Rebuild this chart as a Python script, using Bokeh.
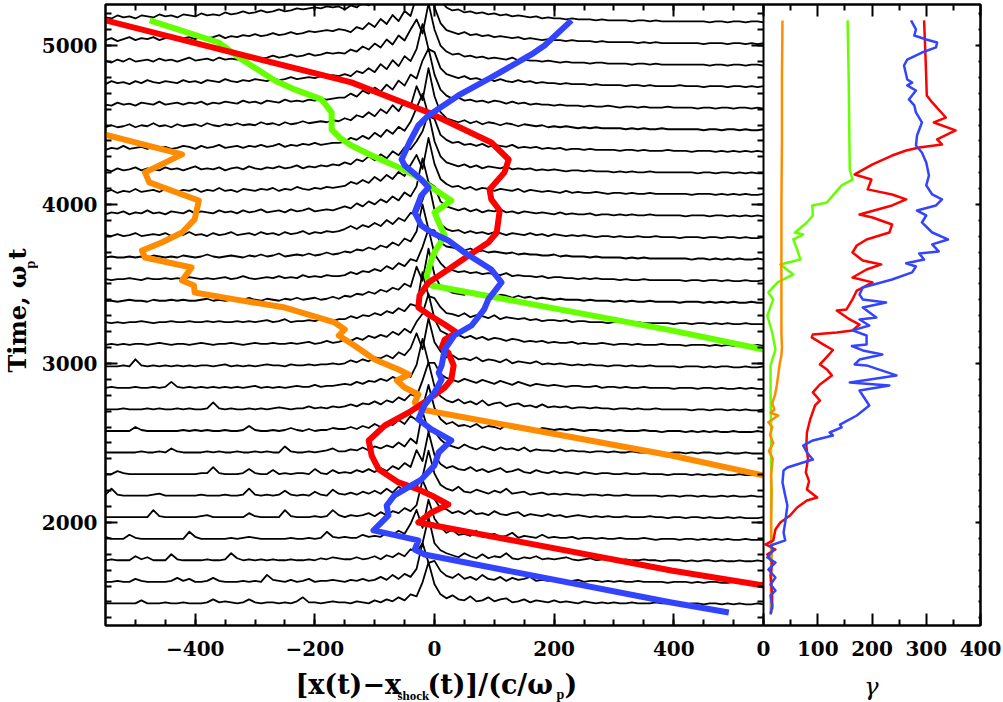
import numpy as np
from bokeh.plotting import figure
from bokeh.models import (Range1d, LinearAxis, SingleIntervalTicker, FixedTicker,
                          CustomLabelingPolicy)
from bokeh.core.properties import value
from bokeh.layouts import row, column
from bokeh.embed import file_html
from bokeh.resources import INLINE

# ---------------- data ----------------
SNAP_T = [1485, 1620, 1756, 1891, 2027, 2162, 2298, 2434, 2569, 2705, 2840, 2976, 3111, 3247,
          3382, 3518, 3654, 3789, 3925, 4060, 4196, 4331, 4467, 4603, 4738, 4874, 5009, 5145]
PROFILE_UNIT = 6.3   # time units per profile unit

# profile heights: downstream (-550..-160), shock ramp (-150..-10), upstream (0..550)
PROF_DOWN = [
 [1,1,1,1,1,1,4,1,1,1,2,1,1,2,1,1,1,2,5,2,3,2,1,2,5,2,1,2,2,1,2,1,3,7,2,2,1,2,3,2],
 [1,1,2,1,1,4,2,1,1,1,1,2,5,2,4,1,1,2,5,2,1,1,1,2,1,2,1,8,3,2,1,3,1,2,4,1,2,2,3,2],
 [1,2,1,1,1,5,2,4,1,1,1,7,2,1,1,1,1,2,1,1,2,8,3,1,2,1,2,1,2,1,1,2,1,1,2,1,3,2,4,3],
 [3,1,1,1,5,2,1,1,1,1,1,1,1,1,8,3,1,1,1,1,1,2,1,2,3,2,1,1,1,1,1,2,1,1,2,1,2,8,3,2],
 [1,1,1,1,1,1,1,1,8,2,1,1,1,1,1,1,2,3,1,1,1,1,1,1,5,2,1,1,1,1,8,2,1,1,1,2,1,2,8,3],
 [2,8,2,1,1,1,1,1,2,3,1,1,1,1,1,1,2,1,1,1,2,1,1,2,8,2,1,2,1,2,6,2,1,2,1,5,2,1,7,3],
 [1,1,4,2,1,1,1,1,1,1,1,1,1,1,1,1,2,2,8,2,1,1,1,2,6,2,1,1,5,1,2,1,2,2,1,6,2,1,5,2],
 [1,1,1,1,1,1,2,1,1,2,1,5,2,1,1,1,1,2,1,2,1,1,2,1,1,2,1,2,1,1,7,2,1,1,2,1,2,3,5,2],
 [1,1,1,1,1,5,2,1,1,1,1,1,1,2,1,2,1,2,1,1,2,1,1,2,6,2,1,1,2,1,2,4,2,1,3,1,2,2,4,3],
 [1,1,1,2,1,1,1,2,1,2,1,1,2,1,2,1,1,2,8,2,1,2,1,1,2,1,2,1,2,3,2,1,2,2,4,2,3,2,4,3],
 [1,2,1,1,1,2,1,1,2,1,2,7,2,1,2,1,2,1,2,1,2,1,2,1,2,3,1,2,1,2,1,2,3,2,2,4,2,3,3,4],
 [1,1,1,2,1,8,2,1,2,1,2,1,2,1,2,1,2,2,1,2,3,1,2,1,2,1,2,3,2,2,1,3,2,2,3,2,3,3,4,3],
 [1,2,1,2,1,2,2,1,2,3,2,1,2,2,1,2,3,2,1,2,2,3,2,1,2,3,2,2,3,2,2,3,2,3,4,2,3,5,3,4],
 [2,1,2,1,2,2,3,2,1,2,2,3,2,2,3,2,2,3,2,3,2,2,3,2,3,2,3,4,2,3,5,2,3,3,4,3,5,4,3,5],
 [2,2,1,2,3,2,2,1,3,2,2,3,2,3,2,2,3,4,2,3,2,3,2,3,5,3,2,4,3,2,4,3,5,3,4,5,3,4,6,4],
 [2,1,2,2,3,2,1,3,2,2,3,2,3,2,4,3,2,3,2,3,4,2,3,5,3,2,3,4,3,5,3,4,3,6,4,5,4,6,5,5],
 [2,3,2,2,3,2,3,2,4,3,2,3,2,4,3,2,3,5,3,2,3,4,3,2,4,3,5,3,4,6,3,4,5,4,6,4,5,7,5,6],
 [3,2,4,2,3,5,2,3,4,3,5,2,4,3,6,3,4,2,5,3,4,6,3,4,5,3,6,4,5,3,6,4,5,7,4,6,5,7,6,7],
 [2,4,3,5,2,4,3,6,3,4,2,5,4,3,6,3,5,4,3,6,4,5,3,6,4,5,7,4,5,6,4,7,5,6,8,5,6,7,6,8],
 [3,5,2,4,3,6,3,4,5,3,6,4,3,5,4,6,3,5,4,7,4,5,3,6,5,4,6,5,7,4,6,5,8,6,5,7,6,8,7,8],
 [4,2,5,3,4,6,3,5,4,3,6,4,5,3,5,7,4,5,4,6,3,5,6,4,7,5,4,6,5,7,5,6,8,5,7,6,8,7,9,8],
 [2,4,3,6,3,4,5,3,6,4,5,3,4,6,5,3,6,4,5,7,4,5,6,4,6,5,7,5,6,8,5,7,6,8,7,9,7,8,9,9],
 [3,5,3,4,6,3,5,4,7,4,5,3,6,4,5,6,4,7,5,4,6,5,7,5,6,5,8,6,7,5,8,6,7,9,7,8,9,8,10,9],
 [4,3,6,4,5,3,6,5,4,7,4,5,6,4,6,5,7,4,6,5,7,6,5,8,6,7,5,8,7,6,9,7,8,7,9,8,10,9,10,11],
 [3,6,4,5,3,6,4,7,5,4,6,5,4,7,5,6,4,7,6,5,8,6,5,7,6,8,7,6,9,7,8,10,8,9,10,9,11,10,12,11],
 [5,3,6,4,7,4,5,6,4,7,5,6,4,6,8,5,6,7,5,8,6,7,6,8,7,9,7,8,10,8,9,11,9,10,12,10,11,13,12,13],
 [4,6,3,5,7,4,6,5,7,4,6,8,5,6,7,5,8,6,7,9,6,8,7,9,8,10,8,9,11,9,10,12,10,11,13,12,13,14,13,15],
 [5,4,7,5,6,4,7,6,5,8,6,7,5,8,7,6,9,7,8,7,10,8,9,11,9,10,12,10,11,13,11,12,14,13,14,15,14,16,15,16],
]
PROF_SHOCK = [
 [2,1,3,2,1,4,2,5,3,7,4,10,8,22,42],
 [1,3,2,4,2,3,6,3,8,4,9,6,14,40,20],
 [2,2,4,2,3,5,2,6,4,8,5,12,9,18,44],
 [3,2,2,5,3,4,3,7,5,9,6,16,30,12,40],
 [1,3,2,3,5,2,6,3,7,5,10,7,13,38,24],
 [2,4,2,5,3,6,3,8,4,10,6,13,10,20,46],
 [3,2,5,3,6,3,7,4,9,6,12,8,25,14,43],
 [2,4,3,6,3,7,5,8,6,11,7,15,10,42,22],
 [3,5,3,6,4,8,5,9,7,12,8,16,12,24,47],
 [4,6,4,7,6,9,6,10,8,13,10,16,14,30,48],
 [5,4,7,5,8,7,10,8,12,9,15,12,24,50,26],
 [4,7,5,8,6,10,9,12,9,15,12,19,34,18,49],
 [6,5,8,6,10,8,11,9,14,11,17,13,24,32,52],
 [5,8,6,9,8,11,9,13,11,16,13,20,18,52,28],
 [7,6,9,8,11,9,13,11,15,13,19,16,36,22,54],
 [6,9,7,10,9,12,10,15,12,18,15,22,20,34,52],
 [8,7,10,9,12,10,14,12,17,14,21,18,28,55,30],
 [9,12,9,13,11,15,12,18,14,20,17,25,24,38,56],
 [10,8,13,10,15,12,17,14,20,16,24,20,30,58,34],
 [9,13,11,15,12,18,14,20,16,23,19,30,40,26,57],
 [11,9,14,12,17,13,19,15,22,18,26,24,32,42,60],
 [10,14,12,16,13,19,15,22,18,25,21,30,44,58,36],
 [12,10,15,13,18,14,21,17,25,19,29,24,44,30,62],
 [11,15,12,18,15,21,17,24,19,28,23,34,30,48,60],
 [13,11,16,14,19,15,23,18,27,21,31,26,38,63,38],
 [12,16,14,19,16,22,18,26,21,30,25,36,46,32,62],
 [14,12,17,15,21,17,25,20,29,23,33,28,48,42,64],
 [13,17,15,20,17,24,20,28,23,32,27,38,32,64,40],
]
PROF_UP = [
 [20,10,6,9,5,4,8,3,4,7,3,5,6,2,3,5,2,4,3,2,4,2,3,2,1,3,2,1,2,1,2,1,1,2,1,1,1,2,1,1,1,1,0,1,1,0,1,1,0,1,0,1,0,0,1,0],
 [22,12,7,5,9,4,6,3,8,4,3,6,2,5,3,4,6,2,3,2,4,3,2,2,3,1,2,2,1,2,1,2,1,1,2,1,1,1,1,0,1,1,1,0,1,0,1,1,0,0,1,0,1,0,0,0],
 [18,11,8,6,4,8,5,3,7,3,5,4,8,3,2,4,3,5,2,3,2,3,4,2,1,2,3,1,2,2,1,1,2,1,1,2,1,1,0,1,1,1,0,1,0,1,1,0,1,0,0,1,0,0,1,0],
 [21,13,7,10,5,6,4,9,3,5,6,3,4,7,2,4,3,2,5,2,3,2,2,3,1,2,2,1,2,1,1,2,1,1,1,2,1,0,1,1,1,0,1,1,0,1,0,1,0,1,0,0,1,0,0,0],
 [19,10,9,5,7,4,8,4,5,3,7,4,3,5,6,2,4,3,2,4,2,3,1,2,3,2,1,2,1,2,1,1,2,1,1,1,2,1,1,0,1,1,0,1,1,0,1,0,0,1,0,1,0,0,0,1],
 [23,12,8,6,10,5,4,7,5,3,6,4,8,3,4,5,2,3,4,2,3,2,3,2,2,1,2,2,1,2,1,1,2,1,1,1,1,1,0,1,1,0,1,1,0,1,0,0,1,0,1,0,0,1,0,0],
 [20,11,7,9,6,5,8,4,6,3,5,7,3,4,6,3,2,5,3,2,4,2,3,2,1,3,2,1,2,2,1,1,2,1,1,2,1,1,1,0,1,1,1,0,1,0,1,0,1,0,0,1,0,0,0,0],
 [22,14,9,7,5,9,6,4,7,5,3,6,4,5,3,6,2,4,3,3,2,4,2,3,2,2,1,2,2,1,2,1,1,2,1,1,1,1,1,0,1,1,0,1,0,1,1,0,0,1,0,0,1,0,0,0],
 [24,13,8,10,6,7,5,8,4,6,5,3,7,4,3,5,4,2,4,3,2,3,2,3,2,1,2,2,1,2,1,2,1,1,1,2,1,1,0,1,1,1,0,1,0,1,0,1,0,0,1,0,0,0,1,0],
 [24,14,10,8,11,7,9,6,10,5,7,8,4,6,7,4,5,3,6,3,4,3,4,2,3,3,2,3,2,2,1,2,2,1,2,1,1,2,1,1,1,1,1,0,1,1,0,1,1,0,1,0,1,0,0,1],
 [26,15,11,9,7,10,8,6,9,7,5,8,6,4,7,5,3,5,4,3,4,3,2,3,3,2,2,3,1,2,2,1,2,1,1,2,1,1,1,1,0,1,1,1,0,1,1,0,1,0,0,1,0,1,0,0],
 [25,16,10,12,8,9,7,10,6,8,7,5,8,4,6,5,4,6,3,4,3,4,3,2,3,2,3,2,2,1,2,2,1,2,1,1,2,1,1,1,1,0,1,1,1,0,1,0,1,1,0,0,1,0,0,1],
 [27,15,12,9,11,8,10,7,9,6,8,7,5,7,6,4,5,4,5,3,4,3,3,4,2,3,2,2,3,2,1,2,2,1,2,1,1,1,2,1,1,1,0,1,1,1,0,1,0,1,0,1,0,0,1,0],
 [26,17,11,10,8,11,7,9,8,6,9,5,7,6,5,6,4,5,3,4,4,3,4,2,3,3,2,2,2,1,2,2,1,1,2,1,1,1,1,1,0,1,1,0,1,1,0,1,0,1,0,0,1,0,0,0],
 [28,16,13,10,9,8,11,7,9,8,6,8,7,5,7,5,6,4,5,4,3,4,3,3,3,2,3,2,2,2,1,2,1,2,1,1,2,1,1,1,1,0,1,1,1,0,1,0,1,0,1,0,0,1,0,0],
 [27,18,12,11,9,10,8,9,7,8,7,6,8,5,6,5,5,4,5,3,4,4,3,3,2,3,2,3,2,2,2,1,2,1,1,2,1,1,1,1,1,1,0,1,1,0,1,1,0,1,0,0,1,0,0,1],
 [29,17,13,12,10,9,11,8,9,7,8,7,6,7,5,6,5,5,4,4,5,3,4,3,3,3,2,3,2,2,2,2,1,2,1,2,1,1,1,1,1,1,1,0,1,1,0,1,0,1,0,1,0,0,1,0],
 [28,14,9,7,8,5,7,5,6,4,6,5,3,5,4,3,5,3,4,2,4,3,2,3,2,3,2,1,2,2,1,2,1,1,2,1,1,2,1,1,1,0,1,1,1,0,1,1,0,1,1,0,1,0,0,1],
 [30,15,10,8,6,8,5,7,4,6,5,7,4,5,3,5,4,3,4,3,2,4,2,3,2,2,3,1,2,2,1,2,1,2,1,1,2,1,1,1,1,1,0,1,1,1,0,1,1,0,1,0,1,0,1,0],
 [31,16,11,8,9,6,8,5,7,6,4,6,5,4,6,3,5,4,3,4,3,2,4,2,3,2,2,3,2,1,2,2,1,2,1,1,2,1,1,1,1,1,1,0,1,1,1,0,1,0,1,0,1,0,0,1],
 [32,17,11,9,7,9,6,8,5,7,6,5,7,4,5,4,5,3,4,3,4,3,2,3,3,2,3,2,2,2,1,2,1,2,1,1,2,1,1,1,1,1,1,1,0,1,1,0,1,1,0,1,0,1,0,0],
 [33,17,12,9,10,7,8,6,8,5,7,6,5,7,4,5,4,5,3,4,3,4,2,3,3,2,3,2,2,2,2,1,2,2,1,2,1,1,1,2,1,1,1,0,1,1,1,0,1,0,1,0,1,0,1,0],
 [34,18,12,10,8,10,7,9,6,8,7,5,7,6,4,6,5,4,5,3,4,3,4,3,2,3,2,3,2,2,2,2,1,2,1,2,1,1,2,1,1,1,1,1,1,0,1,1,0,1,1,0,1,0,0,1],
 [34,19,13,10,11,8,9,7,8,6,8,7,5,7,5,6,4,5,4,4,3,4,3,3,3,2,3,2,2,3,2,1,2,2,1,2,1,1,1,2,1,1,1,1,0,1,1,0,1,1,0,1,1,0,1,0],
 [35,19,13,11,9,11,8,9,7,9,6,8,6,5,7,5,6,4,5,4,4,3,4,3,3,3,2,3,2,2,2,2,1,2,2,1,2,1,1,1,1,2,1,1,1,0,1,1,1,0,1,1,0,1,0,1],
 [36,20,14,11,12,9,10,8,9,7,8,7,6,8,5,6,5,5,4,5,4,3,4,3,3,3,2,3,3,2,2,2,2,1,2,2,1,2,1,1,1,1,1,1,1,1,0,1,1,0,1,1,0,1,1,0],
 [37,21,14,12,10,12,9,10,8,9,7,8,7,6,7,5,6,5,4,5,4,4,3,4,3,3,3,2,3,2,2,2,2,2,1,2,1,2,1,1,1,1,1,1,1,0,1,1,1,0,1,1,0,1,0,1],
 [38,22,15,12,13,10,11,9,10,8,9,7,8,6,7,6,5,6,4,5,4,4,3,4,3,3,3,2,3,2,2,2,2,1,2,2,1,2,1,1,1,1,1,1,1,1,0,1,1,0,1,1,0,1,1,0],
]

# particle trajectories  [x - x_shock] vs time
RED_X = [-552, -139, -10, 95, 124, 117, 92, 95, 109, 104, 90, 57, 23, -10, -25, -27, -10, 17, 37, 17, 12, 23, 32, 28,
         17, -10, -43, -83, -110, -105, -93, -60, -27, -5, 23, -5, -27, 396, 550]
RED_T = [5160, 4768, 4579, 4390, 4283, 4202, 4095, 4032, 3962, 3824, 3761, 3679, 3591, 3510, 3428, 3352, 3308, 3245,
         3195, 3151, 3101, 3069, 2988, 2899, 2849, 2774, 2692, 2610, 2516, 2421, 2333, 2252, 2208, 2170, 2113, 2063,
         2000, 1698, 1604]
GREEN_X = [-476, -361, -322, -267, -234, -189, -172, -172, -159, -139, -105, -67, -33, -10, 28, 0, 7, 17, 0, -5, -13,
           -10, -5, 396, 550]
GREEN_T = [5158, 5019, 4912, 4780, 4724, 4661, 4579, 4472, 4422, 4371, 4308, 4246, 4183, 4120, 4025, 3950, 3887, 3805,
           3698, 3654, 3554, 3510, 3491, 3208, 3088]
BLUE_X = [229, 184, 162, 95, 40, -10, -27, -42, -55, -50, -22, -10, -22, -33, -22, -5, 23, 50, 95, 112, 90, 83, 62, 33,
          17, 12, 7, 12, 0, -17, -27, -5, 28, 7, 0, -22, -67, -80, -77, -102, -27, -33, -17, 396, 492]
BLUE_T = [5158, 5000, 4944, 4799, 4686, 4560, 4497, 4390, 4283, 4246, 4157, 4107, 4057, 3950, 3868, 3824, 3774, 3698,
          3591, 3510, 3403, 3340, 3239, 3176, 3088, 2988, 2943, 2899, 2818, 2736, 2648, 2585, 2516, 2440, 2359, 2270,
          2170, 2107, 2044, 1950, 1887, 1830, 1799, 1497, 1434]
ORANGE_X = [-560, -422, -484, -477, -394, -401, -422, -456, -489, -484, -406, -422, -402, -401, -334, -250, -167, -150,
            -160, -134, -100, -60, -43, -63, -50, -27, -33, -22, 396, 550]
ORANGE_T = [4449, 4315, 4202, 4139, 4025, 3906, 3824, 3761, 3711, 3667, 3604, 3522, 3491, 3447, 3403, 3352, 3258, 3214,
            3176, 3113, 3025, 2962, 2931, 2893, 2849, 2805, 2755, 2711, 2421, 2296]

# Lorentz factor vs time
RED_G_T = [1453, 1541, 1667, 1748, 1799, 1830, 1862, 1887, 1956, 2000, 2044, 2094, 2138, 2157, 2208, 2260, 2315, 2400,
           2480, 2566, 2648, 2736, 2767, 2818, 2868, 2925, 2962, 2994, 3050, 3085, 3120, 3164, 3183, 3195, 3208, 3245,
           3277, 3333, 3340, 3403, 3459, 3510, 3541, 3591, 3623, 3648, 3698, 3742, 3780, 3824, 3874, 3918, 3937, 3994,
           4032, 4063, 4095, 4157, 4189, 4252, 4308, 4340, 4359, 4378, 4409, 4466, 4516, 4547, 4642, 4686, 4893, 5158]
RED_G = [16, 16, 13, 16, 7, 22, 4, 18, 22, 31, 49, 62, 80, 99, 80, 84, 78, 82, 79, 80, 86, 95, 104, 91, 104, 126, 117,
         104, 119, 128, 110, 89, 91, 135, 164, 177, 159, 135, 153, 164, 172, 201, 164, 190, 217, 183, 164, 172, 190, 232,
         237, 201, 177, 237, 263, 237, 192, 199, 168, 201, 237, 263, 287, 329, 320, 354, 314, 336, 311, 301, 299, 296]
BLUE_G_T = [1421, 1478, 1541, 1572, 1610, 1654, 1704, 1748, 1780, 1824, 1855, 1887, 1937, 2000, 2107, 2170, 2252, 2327,
            2346, 2377, 2396, 2440, 2484, 2516, 2547, 2566, 2598, 2616, 2673, 2736, 2799, 2830, 2862, 2881, 2925, 2988,
            2994, 3025, 3057, 3082, 3110, 3120, 3176, 3208, 3239, 3277, 3289, 3352, 3384, 3403, 3434, 3478, 3528, 3573,
            3610, 3630, 3654, 3692, 3705, 3749, 3780, 3824, 3887, 3931, 3962, 3994, 4032, 4063, 4120, 4183, 4264, 4327,
            4371, 4434, 4516, 4579, 4623, 4661, 4717, 4749, 4767, 4786, 4874, 4912, 4956, 4988, 5019, 5038, 5063, 5101,
            5158]
BLUE_G = [13, 16, 13, 22, 13, 22, 9, 22, 7, 18, 13, 40, 37, 40, 44, 40, 35, 37, 44, 73, 91, 80, 73, 91, 128, 122, 144,
          141, 172, 195, 183, 177, 232, 159, 245, 190, 168, 177, 219, 183, 163, 190, 190, 164, 195, 177, 208, 183, 226,
          183, 177, 183, 237, 274, 281, 263, 296, 287, 323, 311, 340, 311, 292, 300, 283, 318, 329, 311, 300, 305, 300,
          292, 281, 283, 292, 281, 278, 268, 281, 265, 274, 265, 259, 265, 292, 318, 320, 300, 278, 281, 272]
GREEN_G_T = [1430, 1700, 2000, 2300, 2600, 2800, 2988, 3088, 3195, 3302, 3403, 3447, 3510, 3560, 3623, 3654, 3717, 3780,
             3811, 3824, 3887, 3931, 3994, 4013, 4120, 4157, 4220, 4500, 4800, 5158]
GREEN_G = [13, 14, 14, 14, 14, 13, 13, 22, 16, 7, 18, 9, 26, 55, 31, 68, 62, 55, 73, 58, 80, 91, 90, 117, 144, 164, 159,
           158, 157, 155]
ORANGE_G_T = [1430, 1600, 1800, 2000, 2200, 2300, 2400, 2450, 2500, 2550, 2600, 2630, 2673, 2690, 2711, 2750, 2800,
              2850, 2900, 2950, 3000, 3050, 3100, 3200, 3400, 3600, 3800, 4000, 4400, 4800, 5158]
ORANGE_G = [15, 14, 15, 14, 15, 14, 17, 10, 18, 12, 16, 9, 27, 13, 20, 16, 21, 24, 26, 28, 30, 33, 34, 33, 33, 33, 33,
            33, 34, 34, 35]

X_MAJOR = [-400, -200, 0, 200, 400]
G_MAJOR = [0, 100, 200, 300, 400]
G_MINOR = [50, 150, 250, 350]

# ---------------- layout / style ----------------
FONT = "DejaVu Serif"
SUBFONT = "Liberation Serif"
RED, GREEN, BLUE, ORANGE = "#FF0000", "#66FF00", "#3344FF", "#FF8C00"
T_MIN, T_MAX = 1352, 5258
LEFT_W, RIGHT_W = 658, 217          # pixel widths of the two panels
YLAB_W, BORDER_L, BORDER_R = 38, 67, 21
FRAME_H, BORDER_T, BORDER_B = 621, 2, 39
TOTAL_H = 700

G2X = 1100.0 * RIGHT_W / LEFT_W / 400.0     # gamma unit -> main x unit
X_END = 550 + 400 * G2X
G_START = -LEFT_W * 400.0 / RIGHT_W

HIDE = CustomLabelingPolicy(code="return []")


def make_axis(ticker, labels, standoff=0, maj=12, mnr=6, overrides=None, **kw):
    ax = LinearAxis(ticker=ticker, **kw)
    ax.axis_line_width = 2
    ax.axis_line_color = "black"
    ax.major_tick_in = maj
    ax.major_tick_out = 0
    ax.minor_tick_in = mnr
    ax.minor_tick_out = 0
    ax.major_tick_line_width = 2
    ax.minor_tick_line_width = 2
    ax.major_label_text_font = FONT
    ax.major_label_text_font_style = "bold"
    ax.major_label_text_color = "black"
    if labels:
        ax.major_label_text_font_size = "20px"
        ax.major_label_standoff = standoff
    else:
        ax.major_label_text_font_size = "1px"
        ax.major_label_standoff = 0
        ax.major_label_policy = HIDE
    if overrides:
        ax.major_label_overrides = overrides
    return ax


p = figure(frame_width=LEFT_W + RIGHT_W, frame_height=FRAME_H,
           x_range=Range1d(-550, X_END), y_range=Range1d(T_MIN, T_MAX),
           min_border_left=BORDER_L, min_border_right=BORDER_R,
           min_border_top=BORDER_T, min_border_bottom=BORDER_B,
           output_backend="svg", toolbar_location=None, x_axis_type=None, y_axis_type=None)
p.extra_x_ranges = {"gamma": Range1d(G_START, 400)}
p.outline_line_color = "black"
p.outline_line_width = 2
p.background_fill_color = "white"
p.border_fill_color = "white"

g_ticks = [550 + g * G2X for g in G_MAJOR]
x_ticker = FixedTicker(
    ticks=X_MAJOR + g_ticks,
    minor_ticks=[v for v in range(-500, 551, 50)] + [550 + g * G2X for g in G_MINOR])
overrides = {-400: "\u2212400", -200: "\u2212200"}
for g, xv in zip(G_MAJOR, g_ticks):
    overrides[xv] = str(g)
yt = SingleIntervalTicker(interval=1000, num_minor_ticks=10)

p.add_layout(make_axis(x_ticker, True, 15, overrides=overrides), "below")
p.add_layout(make_axis(x_ticker, False), "above")
p.add_layout(make_axis(yt, True, 8), "left")
p.add_layout(make_axis(yt, False, maj=5, mnr=2), "right")
p.add_layout(make_axis(yt, False, fixed_location=550), "right")   # panel boundary

# stacked profiles
xs, ys = [], []
for t0, d, s, u in zip(SNAP_T, PROF_DOWN, PROF_SHOCK, PROF_UP):
    x = np.concatenate([np.linspace(-550, -160, len(d)), np.linspace(-150, -10, len(s)),
                        np.linspace(0, 550, len(u))])
    h = np.array(d + s + u, dtype=float)
    xs.append(x.tolist())
    ys.append((t0 + PROFILE_UNIT * h).tolist())
p.multi_line(xs=xs, ys=ys, line_color="black", line_width=1.8, line_join="round")

for xv, tv, c in [(ORANGE_X, ORANGE_T, ORANGE), (GREEN_X, GREEN_T, GREEN),
                  (RED_X, RED_T, RED), (BLUE_X, BLUE_T, BLUE)]:
    p.line(xv, tv, line_color=c, line_width=6, line_join="round")

for gtv, gv, c in [(GREEN_G_T, GREEN_G, GREEN), (ORANGE_G_T, ORANGE_G, ORANGE),
                   (RED_G_T, RED_G, RED), (BLUE_G_T, BLUE_G, BLUE)]:
    p.line(gv, gtv, line_color=c, line_width=2.5, line_join="round", x_range_name="gamma")

main_h = BORDER_T + FRAME_H + BORDER_B
main_w = BORDER_L + LEFT_W + RIGHT_W + BORDER_R


def text_fig(w, h):
    f = figure(width=w, height=h, x_range=Range1d(0, w), y_range=Range1d(0, h), min_border=0,
               output_backend="svg", toolbar_location=None, x_axis_type=None, y_axis_type=None)
    try:
        f.frame_align = False
    except Exception:
        pass
    f.outline_line_color = None
    f.background_fill_color = "white"
    f.border_fill_color = "white"
    f.grid.visible = False
    return f


def put(f, x, y, txt, size, font=FONT, style="bold", angle=0.0, align="left"):
    f.text(x=[x], y=[y], text=[txt], angle=angle, text_font=value(font), text_font_style=style,
           text_font_size=size, text_color="black", text_align=align, text_baseline="alphabetic")


# y-axis title (pixel coordinates, y measured from the bottom of the page)
ylab = text_fig(YLAB_W, TOTAL_H)
put(ylab, 17, TOTAL_H - 372, "Time, \u03c9", "24px", angle=np.pi / 2)
put(ylab, 30, TOTAL_H - 268, "p", "14px", font=SUBFONT, angle=np.pi / 2)
put(ylab, 17, TOTAL_H - 259, "t", "24px", angle=np.pi / 2)

# x-axis titles (pixel coordinates relative to the page)
xh = TOTAL_H - main_h
xlab = text_fig(main_w, xh)
put(xlab, 295 - YLAB_W, TOTAL_H - 682, "[x(t)\u2212x", "27px")
put(xlab, 397 - YLAB_W, TOTAL_H - 693, "shock", "13px", font=SUBFONT)
put(xlab, 427 - YLAB_W, TOTAL_H - 682, "(t)]/(c/\u03c9", "27px")
put(xlab, 556 - YLAB_W, TOTAL_H - 692, "p", "14px", font=SUBFONT)
put(xlab, 564 - YLAB_W, TOTAL_H - 682, ")", "27px")
put(xlab, 871 - YLAB_W, TOTAL_H - 684, "\u03b3", "24px", style="italic", align="center")

layout = row(ylab, column(p, xlab))
open("out.html", "w").write(file_html(layout, INLINE))
